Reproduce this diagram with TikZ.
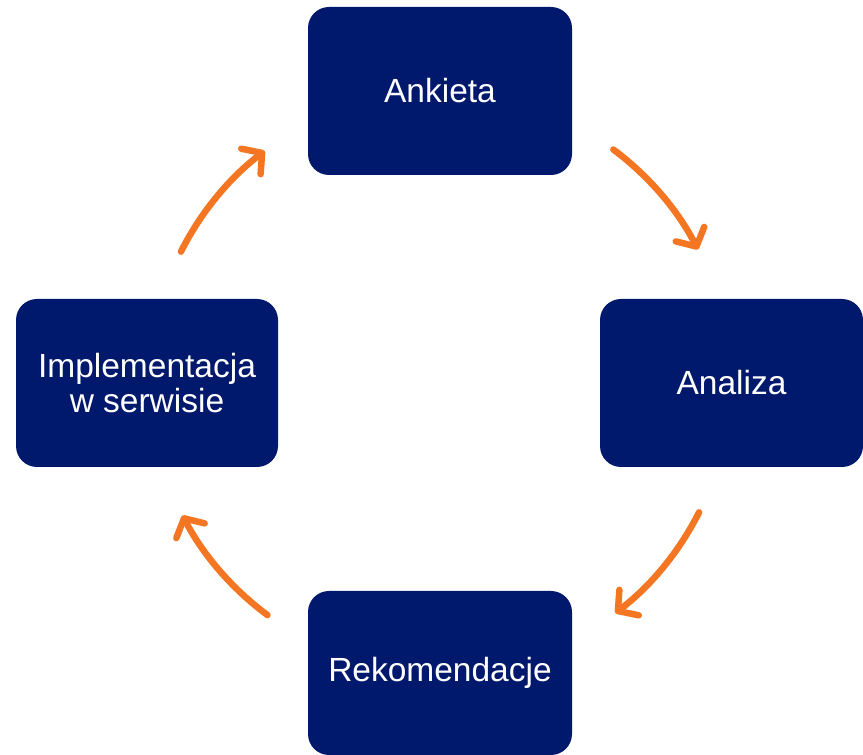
\documentclass[tikz,border=0pt]{standalone}
\usepackage{fontspec}
\setmainfont{Liberation Sans}
\usetikzlibrary{arrows.meta,calc}
\definecolor{boxblue}{RGB}{1,25,108}
\definecolor{arroworange}{RGB}{244,118,34}
\begin{document}
\begin{tikzpicture}[x=1pt,y=1pt,
  stagebox/.style={fill=boxblue, draw=none, rounded corners=21pt, minimum width=264pt, minimum height=168pt, inner sep=0pt, text=white, align=center, font=\fontsize{33.5}{35.5}\selectfont},
  cyclearrow/.style={draw=arroworange, line width=6.5pt, line cap=round, -{Straight Barb[length=14pt,width=32pt,round]}}]
\useasboundingbox (0,0) rectangle (863,755);
\node[stagebox] (ank) at (440,664) {Ankieta};
\node[stagebox, minimum width=263pt] (ana) at (731.5,372) {Analiza};
\node[stagebox, minimum width=262pt] (imp) at (147,372) {Implementacja\\w serwisie};
\node[stagebox, minimum height=164pt] (rek) at (440,82) {Rekomendacje};
\coordinate (c) at (440,373);
\coordinate (s1) at ($(c)+(53.3:290)$);
\coordinate (s2) at ($(c)+(-26.7:290)$);
\coordinate (s3) at ($(c)+(233.5:290)$);
\coordinate (s4) at ($(c)+(153.3:290)$);
\draw[cyclearrow] (s1) arc[start angle=53.3, end angle=27.2, radius=290];
\draw[cyclearrow] (s2) arc[start angle=-26.7, end angle=-52.8, radius=290];
\draw[cyclearrow] (s3) arc[start angle=233.5, end angle=207.4, radius=290];
\draw[cyclearrow] (s4) arc[start angle=153.3, end angle=127.2, radius=290];
\end{tikzpicture}
\end{document}
